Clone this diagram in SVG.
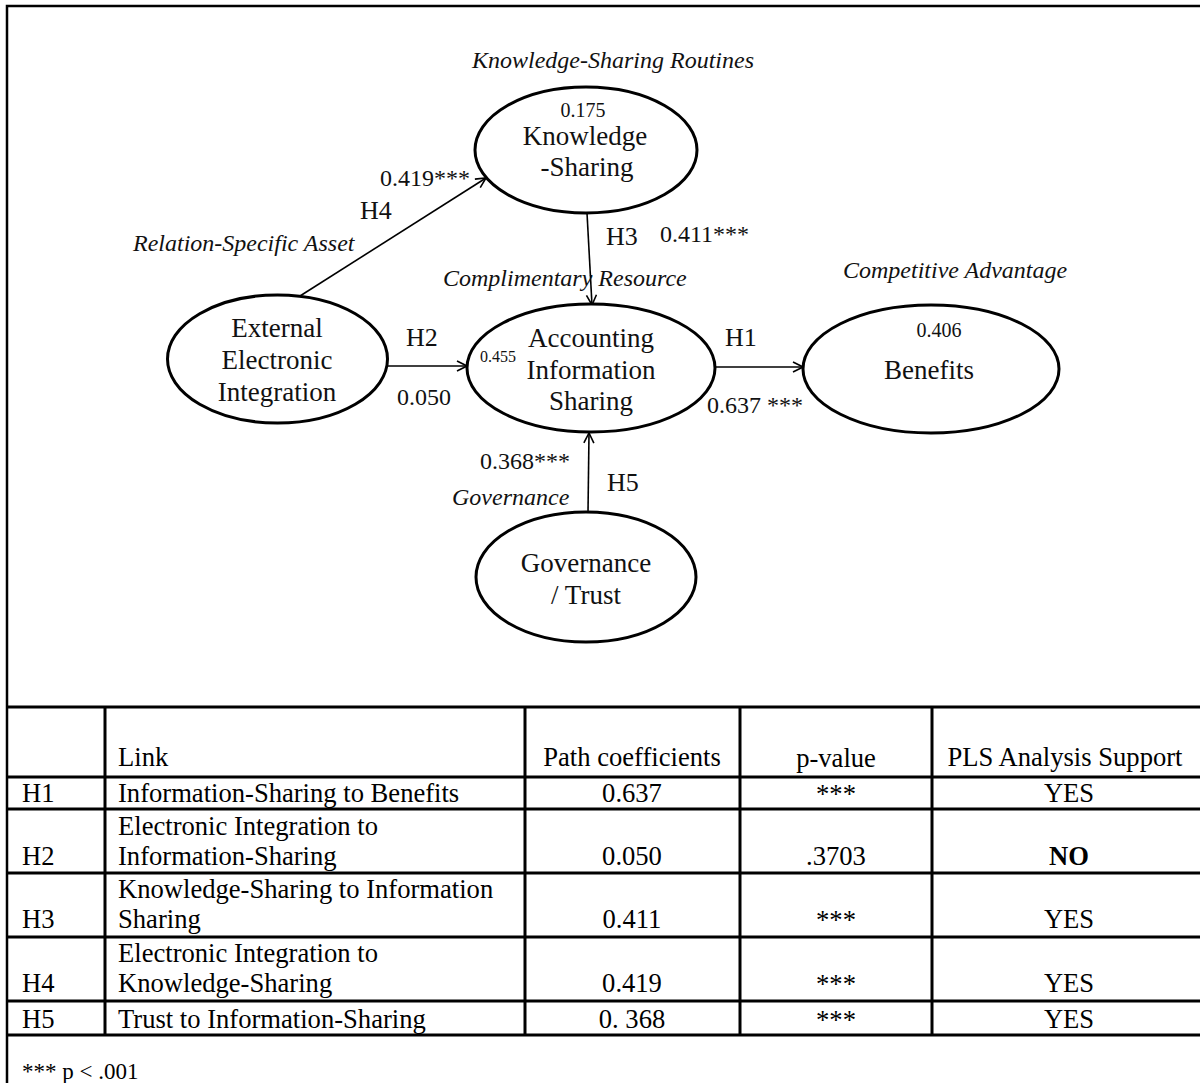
<svg xmlns="http://www.w3.org/2000/svg" width="1200" height="1083" viewBox="0 0 1200 1083">
<style>
.node{fill:#fff;stroke:#000;stroke-width:3}
.lbl{font-family:"Liberation Serif",serif;font-size:27px;fill:#111;text-anchor:middle}
.it{font-family:"Liberation Serif",serif;font-style:italic;font-size:24px;fill:#111}
.num{font-family:"Liberation Serif",serif;font-size:24px;fill:#111}
.sm{font-family:"Liberation Serif",serif;font-size:20px;fill:#111;text-anchor:middle}
.conn{stroke:#000;stroke-width:1.6;fill:none;marker-end:url(#arr)}
.tl{stroke:#000;stroke-width:3;fill:none}
.tt{font-family:"Liberation Serif",serif;font-size:26.6px;fill:#000}
.c{text-anchor:middle}
</style>
<defs>
<marker id="arr" viewBox="0 0 12 12" refX="11" refY="6" markerWidth="12" markerHeight="12" markerUnits="userSpaceOnUse" orient="auto">
<path d="M1,1 L11,6 L1,11" fill="none" stroke="#000" stroke-width="1.6"/>
</marker>
</defs>
<rect x="0" y="0" width="1200" height="1083" fill="#fff"/>
<rect x="7" y="6" width="1210" height="1100" fill="none" stroke="#000" stroke-width="2.5"/>

<g id="connectors">
<line class="conn" x1="300" y1="296" x2="486" y2="178"/>
<line class="conn" x1="587" y1="213" x2="592" y2="305"/>
<line class="conn" x1="387" y1="366" x2="467" y2="366"/>
<line class="conn" x1="715" y1="367" x2="803" y2="367"/>
<line class="conn" x1="588" y1="513" x2="589" y2="433"/>
</g>

<g id="node-knowledge">
<ellipse class="node" cx="586" cy="150" rx="111" ry="63"/>
<text class="sm" x="583" y="117">0.175</text>
<text class="lbl" x="585" y="145">Knowledge</text>
<text class="lbl" x="587" y="176">-Sharing</text>
</g>
<g id="node-external">
<ellipse class="node" cx="277.5" cy="359" rx="110" ry="64"/>
<text class="lbl" x="277" y="337">External</text>
<text class="lbl" x="277" y="369">Electronic</text>
<text class="lbl" x="277" y="401">Integration</text>
</g>
<g id="node-accounting">
<ellipse class="node" cx="591" cy="368" rx="124" ry="64"/>
<text class="lbl" x="591" y="347">Accounting</text>
<text class="lbl" x="591" y="379">Information</text>
<text class="lbl" x="591" y="410">Sharing</text>
<text class="num" x="480" y="362" style="font-size:16px">0.455</text>
</g>
<g id="node-benefits">
<ellipse class="node" cx="931" cy="369" rx="128" ry="64"/>
<text class="sm" x="939" y="337">0.406</text>
<text class="lbl" x="929" y="379">Benefits</text>
</g>
<g id="node-governance">
<ellipse class="node" cx="586" cy="577" rx="110" ry="65"/>
<text class="lbl" x="586" y="572">Governance</text>
<text class="lbl" x="586" y="604">/ Trust</text>
</g>

<g id="labels">
<text class="it" x="613" y="68" text-anchor="middle">Knowledge-Sharing Routines</text>
<text class="num" x="380" y="186">0.419***</text>
<text class="num" x="360" y="219" style="font-size:26px">H4</text>
<text class="it" x="133" y="251">Relation-Specific Asset</text>
<text class="num" x="606" y="245" style="font-size:26px">H3</text>
<text class="num" x="660" y="242">0.411***</text>
<text class="it" x="443" y="286">Complimentary Resource</text>
<text class="it" x="843" y="278">Competitive Advantage</text>
<text class="num" x="406" y="346" style="font-size:26px">H2</text>
<text class="num" x="397" y="405">0.050</text>
<text class="num" x="725" y="346" style="font-size:26px">H1</text>
<text class="num" x="707" y="413">0.637 ***</text>
<text class="num" x="480" y="469">0.368***</text>
<text class="it" x="452" y="505">Governance</text>
<text class="num" x="607" y="491" style="font-size:26px">H5</text>
</g>

<g id="table">
<line class="tl" x1="7" y1="707" x2="1200" y2="707"/>
<line class="tl" x1="7" y1="777" x2="1200" y2="777"/>
<line class="tl" x1="7" y1="809" x2="1200" y2="809"/>
<line class="tl" x1="7" y1="873" x2="1200" y2="873"/>
<line class="tl" x1="7" y1="937" x2="1200" y2="937"/>
<line class="tl" x1="7" y1="1001" x2="1200" y2="1001"/>
<line class="tl" x1="7" y1="1035" x2="1200" y2="1035"/>
<line class="tl" x1="105" y1="707" x2="105" y2="1035"/>
<line class="tl" x1="525" y1="707" x2="525" y2="1035"/>
<line class="tl" x1="740" y1="707" x2="740" y2="1035"/>
<line class="tl" x1="932" y1="707" x2="932" y2="1035"/>

<text class="tt" x="118" y="766">Link</text>
<text class="tt c" x="632" y="766">Path coefficients</text>
<text class="tt c" x="836" y="767">p-value</text>
<text class="tt c" x="1065" y="766">PLS Analysis Support</text>

<text class="tt" x="22" y="802">H1</text>
<text class="tt" x="118" y="802">Information-Sharing to Benefits</text>
<text class="tt c" x="632" y="802">0.637</text>
<text class="tt c" x="836" y="803">***</text>
<text class="tt c" x="1069" y="802">YES</text>

<text class="tt" x="22" y="865">H2</text>
<text class="tt" x="118" y="835">Electronic Integration to</text>
<text class="tt" x="118" y="865">Information-Sharing</text>
<text class="tt c" x="632" y="865">0.050</text>
<text class="tt c" x="836" y="865">.3703</text>
<text class="tt c" x="1069" y="865" font-weight="bold">NO</text>

<text class="tt" x="22" y="928">H3</text>
<text class="tt" x="118" y="898">Knowledge-Sharing to Information</text>
<text class="tt" x="118" y="928">Sharing</text>
<text class="tt c" x="632" y="928">0.411</text>
<text class="tt c" x="836" y="929">***</text>
<text class="tt c" x="1069" y="928">YES</text>

<text class="tt" x="22" y="992">H4</text>
<text class="tt" x="118" y="962">Electronic Integration to</text>
<text class="tt" x="118" y="992">Knowledge-Sharing</text>
<text class="tt c" x="632" y="992">0.419</text>
<text class="tt c" x="836" y="993">***</text>
<text class="tt c" x="1069" y="992">YES</text>

<text class="tt" x="22" y="1028">H5</text>
<text class="tt" x="118" y="1028">Trust to Information-Sharing</text>
<text class="tt c" x="632" y="1028">0. 368</text>
<text class="tt c" x="836" y="1029">***</text>
<text class="tt c" x="1069" y="1028">YES</text>

<text class="tt" x="22" y="1079" style="font-size:23px">*** p &lt; .001</text>
</g>
</svg>
